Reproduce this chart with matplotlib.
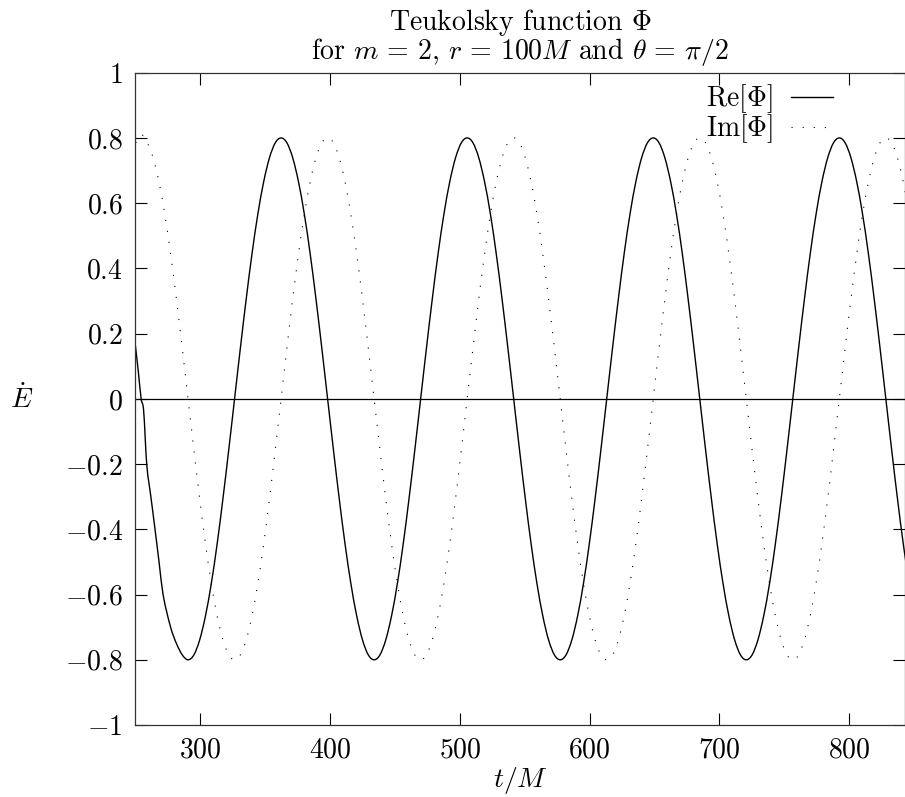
import matplotlib
matplotlib.use("Agg")
import matplotlib.pyplot as plt
from matplotlib.path import Path
from matplotlib.patches import PathPatch
from matplotlib.ticker import FuncFormatter

plt.rcParams['font.family'] = 'cmr10'
plt.rcParams['mathtext.fontset'] = 'cm'
plt.rcParams['axes.unicode_minus'] = False

# sample times (t/M)
t_im = [250.32, 254.80, 259.28, 263.76, 268.24, 272.72, 277.20, 281.68,
        286.16, 290.64, 295.12, 299.60, 304.08, 308.56, 313.04, 317.52,
        322.00, 326.48, 330.96, 335.44, 339.92, 344.40, 348.88, 353.36,
        357.84, 362.32, 366.80, 371.28, 375.76, 380.24, 384.72, 389.20,
        393.68, 398.16, 402.64, 407.12, 411.60, 416.08, 420.56, 425.04,
        429.52, 434.00, 438.48, 442.96, 447.44, 451.92, 456.40, 460.88,
        465.36, 469.84, 474.32, 478.80, 483.28, 487.76, 492.24, 496.72,
        501.20, 505.68, 510.16, 514.64, 519.12, 523.60, 528.08, 532.56,
        537.04, 541.52, 546.00, 550.48, 554.96, 559.44, 563.92, 568.40,
        572.88, 577.36, 581.84, 586.32, 590.80, 595.28, 599.76, 604.24,
        608.72, 613.20, 617.68, 622.16, 626.64, 631.12, 635.60, 640.08,
        644.56, 649.04, 653.52, 658.00, 662.48, 666.96, 671.44, 675.92,
        680.40, 684.88, 689.36, 693.84, 698.32, 702.80, 707.28, 711.76,
        716.24, 720.72, 725.20, 729.68, 734.16, 738.64, 743.12, 747.60,
        752.08, 756.56, 761.04, 765.52, 770.00, 774.48, 778.96, 783.44,
        787.92, 792.40, 796.88, 801.36, 805.84, 810.32, 814.80, 819.28,
        823.76, 828.24, 832.72, 837.20, 841.68, 846.16]

im_phi = [0.785, 0.810, 0.785, 0.739, 0.665, 0.566, 0.445, 0.306, 0.156,
          # 290 -> 434
          0.000, -0.156, -0.306, -0.445, -0.566, -0.665, -0.739, -0.785,
          -0.800, -0.785, -0.739, -0.665, -0.566, -0.445, -0.306, -0.156,
          0.000, 0.156, 0.306, 0.445, 0.566, 0.665, 0.739, 0.785,
          0.800, 0.785, 0.739, 0.665, 0.566, 0.445, 0.306, 0.156,
          # 434 -> 577
          0.000, -0.156, -0.306, -0.445, -0.566, -0.665, -0.739, -0.785,
          -0.800, -0.785, -0.739, -0.665, -0.566, -0.445, -0.306, -0.156,
          0.000, 0.156, 0.306, 0.445, 0.566, 0.665, 0.739, 0.785,
          0.800, 0.785, 0.739, 0.665, 0.566, 0.445, 0.306, 0.156,
          # 577 -> 720
          0.000, -0.156, -0.306, -0.445, -0.566, -0.665, -0.739, -0.785,
          -0.800, -0.785, -0.739, -0.665, -0.566, -0.445, -0.306, -0.156,
          0.000, 0.156, 0.306, 0.445, 0.566, 0.665, 0.739, 0.785,
          0.800, 0.785, 0.739, 0.665, 0.566, 0.445, 0.306, 0.156,
          # 720 -> end
          0.000, -0.156, -0.306, -0.445, -0.566, -0.665, -0.739, -0.785,
          -0.800, -0.785, -0.739, -0.665, -0.566, -0.445, -0.306, -0.156,
          0.000, 0.156, 0.306, 0.445, 0.566, 0.665, 0.739, 0.785,
          0.800, 0.785, 0.739, 0.665, 0.566]

# real part: early transient read separately, then the same grid from t=290.64
t_re_start = [250.0, 252.3, 254.5, 256.4, 258.8, 262.0, 265.2, 268.3,
              271.4, 277.2, 281.7, 286.2]
re_start = [0.165, 0.085, 0.0, -0.035, -0.20, -0.30, -0.40, -0.50,
            -0.60, -0.70, -0.75, -0.785]

re_phi = [-0.800, -0.785, -0.739, -0.665, -0.566, -0.445, -0.306, -0.156,
          0.000, 0.156, 0.306, 0.445, 0.566, 0.665, 0.739, 0.785,
          0.800, 0.785, 0.739, 0.665, 0.566, 0.445, 0.306, 0.156,
          0.000, -0.156, -0.306, -0.445, -0.566, -0.665, -0.739, -0.785,
          -0.800, -0.785, -0.739, -0.665, -0.566, -0.445, -0.306, -0.156,
          0.000, 0.156, 0.306, 0.445, 0.566, 0.665, 0.739, 0.785,
          0.800, 0.785, 0.739, 0.665, 0.566, 0.445, 0.306, 0.156,
          0.000, -0.156, -0.306, -0.445, -0.566, -0.665, -0.739, -0.785,
          -0.800, -0.785, -0.739, -0.665, -0.566, -0.445, -0.306, -0.156,
          0.000, 0.156, 0.306, 0.445, 0.566, 0.665, 0.739, 0.785,
          0.800, 0.785, 0.739, 0.665, 0.566, 0.445, 0.306, 0.156,
          0.000, -0.156, -0.306, -0.445, -0.566, -0.665, -0.739, -0.785,
          -0.800, -0.785, -0.739, -0.665, -0.566, -0.445, -0.306, -0.156,
          0.000, 0.156, 0.306, 0.445, 0.566, 0.665, 0.739, 0.785,
          0.800, 0.785, 0.739, 0.665, 0.566, 0.445, 0.306, 0.156,
          0.000, -0.156, -0.306, -0.445, -0.566]

t_re = t_re_start + t_im[9:]
re_all = re_start + re_phi

x_ticks = [300, 400, 500, 600, 700, 800]
y_ticks = [-1, -0.8, -0.6, -0.4, -0.2, 0, 0.2, 0.4, 0.6, 0.8, 1]


def smooth_path(xs, ys):
    # cubic bezier through the points (finite difference tangents)
    n = len(xs)
    slopes = []
    for i in range(n):
        a = max(i - 1, 0)
        b = min(i + 1, n - 1)
        slopes.append((ys[b] - ys[a]) / (xs[b] - xs[a]))
    verts = [(xs[0], ys[0])]
    codes = [Path.MOVETO]
    for i in range(n - 1):
        h = xs[i + 1] - xs[i]
        verts.append((xs[i] + h / 3, ys[i] + slopes[i] * h / 3))
        verts.append((xs[i + 1] - h / 3, ys[i + 1] - slopes[i + 1] * h / 3))
        verts.append((xs[i + 1], ys[i + 1]))
        codes += [Path.CURVE4] * 3
    return Path(verts, codes)


fig = plt.figure(figsize=(9.05, 7.97), dpi=100)
ax = fig.add_axes([0.1495, 0.0903, 0.8505, 0.8185])

re_style = dict(color='black', linewidth=1.0)
im_style = dict(color='black', linewidth=0.8, linestyle=(0, (1, 9)))

ax.add_patch(PathPatch(smooth_path(t_re, re_all), fill=False, **re_style))
ax.add_patch(PathPatch(smooth_path(t_im, im_phi), fill=False, **im_style))
# legend keys
ax.plot([], [], label=r'Re[$\Phi$]', **re_style)
ax.plot([], [], label=r'Im[$\Phi$]', **im_style)
ax.axhline(0, color='black', linewidth=0.9)

ax.set_xlim(250, 843)
ax.set_ylim(-1, 1)
ax.set_xticks(x_ticks)
ax.set_yticks(y_ticks)
ax.xaxis.set_major_formatter(FuncFormatter(lambda v, p: '$%g$' % v))
ax.yaxis.set_major_formatter(FuncFormatter(lambda v, p: '$%g$' % round(v, 1)))
ax.tick_params(direction='in', length=8.5, width=0.8, top=True, right=True,
               labelsize=20, pad=9)
for s in ax.spines.values():
    s.set_linewidth(0.9)
    s.set_color('#333333')

ax.set_xlabel(r'$t/M$', fontsize=20, labelpad=0.5)
ax.set_ylabel(r'$\dot{E}$', fontsize=20, rotation=0, labelpad=31, va='center')
ax.set_title('Teukolsky function $\\Phi$\n'
             'for $m\\,=\\,2$, $r\\,=\\,100M$ and $\\theta\\,=\\,\\pi/2$',
             fontsize=20, linespacing=0.9, pad=10)

ax.legend(loc='upper right', bbox_to_anchor=(0.906, 0.985), frameon=False,
          markerfirst=False, fontsize=20, handlelength=1.5, handletextpad=0.65,
          labelspacing=-0.1, borderpad=0, borderaxespad=0)

fig.savefig('out.png', dpi=100)
